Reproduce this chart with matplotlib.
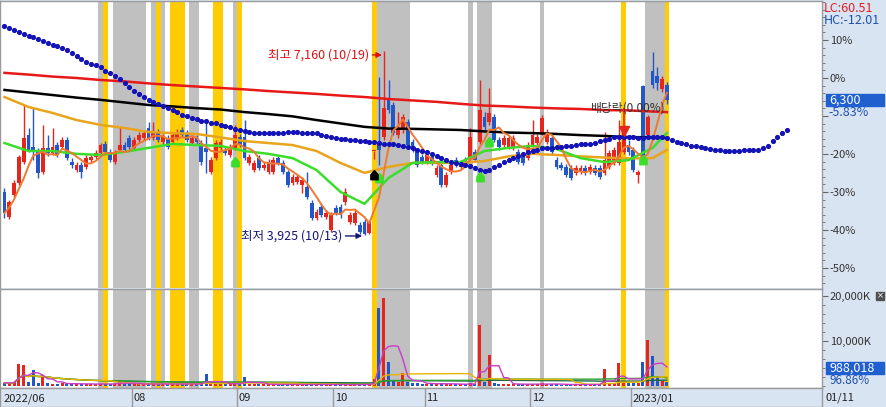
import numpy as np
import pandas as pd
import matplotlib
matplotlib.use("Agg")
import matplotlib.pyplot as plt
from matplotlib.path import Path
from matplotlib.patches import Rectangle
import matplotlib.transforms as mtransforms

plt.rcParams['font.family'] = ['Noto Sans CJK KR', 'DejaVu Sans']

# ---------------- data ----------------
holidays = ['2022-08-15', '2022-09-09', '2022-09-12', '2022-10-03', '2022-10-10', '2022-12-30']

open_ = [4685, 4245, 4630, 4840, 5210, 5685, 5475, 5425, 5035, 5460,
         5370, 5510, 5475, 5600, 5210, 5070, 5160, 5125, 5245, 5300,
         5370, 5530, 5390, 5210, 5425, 5510, 5635, 5460, 5600, 5635,
         5810, 5635, 5740, 5565, 5635, 5565, 5635, 5775, 5720, 5545,
         5635, 5545, 5460, 5035, 5280, 5460, 5425, 5335, 5460, 5650,
         5650, 5195, 5070, 5280, 5105, 5035, 5035, 5280, 5195, 5035,
         4840, 4860, 4805, 4770, 4490, 4225, 4420, 4245, 4015, 4400,
         4420, 4510, 4155, 4140, 4105, 4155, 3960, 5400, 5545, 5650,
         6300, 6215, 5685, 5775, 5915, 5565, 5390, 5300, 5210, 5300,
         4985, 5160, 4805, 5035, 5245, 5125, 5245, 5280, 5390, 5565,
         6005, 5915, 6005, 5600, 5510, 5475, 5460, 5390, 5335, 5280,
         5510, 5545, 5720, 5565, 5635, 5245, 5160, 5125, 5105, 5020,
         5035, 5105, 5035, 5105, 5105, 5020, 5125, 5195, 5195, 5390,
         5510, 5425, 4985, 6550, 5685, 6815, 6725, 6495, 6565]
high = [4755, 4545, 4895, 5335, 6215, 5810, 6160, 5460, 5865, 5685,
        5810, 5565, 5650, 5650, 5280, 5210, 5210, 5335, 5355, 5425,
        5545, 5580, 5440, 5425, 5830, 5565, 5685, 5650, 5740, 5775,
        5915, 5915, 5795, 5705, 5685, 5740, 5795, 5830, 5775, 5685,
        5685, 5600, 5950, 5300, 5600, 5615, 5475, 5530, 5865, 5705,
        5950, 5355, 5245, 5335, 5210, 5265, 5300, 5335, 5245, 5070,
        5000, 5000, 4950, 5035, 4545, 4385, 4475, 4365, 4330, 4455,
        4475, 4755, 4330, 4365, 4155, 4210, 4190, 5400, 6710, 7160,
        6655, 6270, 6090, 6055, 5970, 5615, 5440, 5355, 5390, 5355,
        5160, 5210, 5035, 5210, 5300, 5245, 5300, 5810, 5440, 6655,
        6090, 6515, 6055, 5650, 5685, 5685, 5685, 5440, 5390, 5565,
        5950, 5705, 6040, 5795, 5685, 5300, 5210, 5175, 5160, 5160,
        5160, 5160, 5175, 5160, 5160, 5740, 5425, 5475, 5950, 5865,
        5600, 5475, 5070, 6565, 6040, 7150, 6885, 6725, 6620]
low = [4225, 4210, 4595, 4805, 5175, 5390, 5245, 4930, 5000, 5315,
       5335, 5300, 5440, 5245, 5105, 5035, 4930, 5090, 5210, 5265,
       5335, 5355, 5210, 5175, 5390, 5390, 5440, 5425, 5565, 5600,
       5600, 5600, 5565, 5530, 5440, 5530, 5600, 5650, 5565, 5510,
       5530, 5160, 5020, 5000, 5245, 5425, 5335, 5300, 5425, 5475,
       5245, 5160, 5035, 5070, 5070, 5000, 5000, 5160, 5000, 4770,
       4805, 4825, 4665, 4560, 4190, 4190, 4245, 4210, 3980, 4280,
       4225, 4455, 4120, 4105, 3945, 3925, 3945, 5270, 5160, 5600,
       6075, 5685, 5635, 5720, 5475, 5390, 5125, 5175, 5175, 5160,
       4950, 4770, 4770, 5000, 5125, 5090, 5125, 5245, 5210, 5530,
       5775, 5865, 5565, 5425, 5475, 5440, 5425, 5175, 5160, 5245,
       5475, 5510, 5685, 5530, 5355, 5090, 5070, 4950, 4895, 4985,
       5000, 4985, 5000, 4985, 4915, 4985, 5090, 5160, 5160, 5355,
       5335, 5035, 4840, 5210, 5650, 6515, 6480, 6445, 6235]
close = [4315, 4510, 4840, 5300, 5635, 5425, 5425, 5020, 5460, 5370,
         5475, 5335, 5600, 5280, 5160, 5160, 5035, 5280, 5300, 5370,
         5510, 5390, 5245, 5370, 5510, 5425, 5475, 5600, 5685, 5720,
         5635, 5720, 5600, 5650, 5475, 5685, 5740, 5685, 5600, 5635,
         5565, 5210, 5390, 5245, 5545, 5565, 5370, 5475, 5685, 5510,
         5280, 5300, 5195, 5105, 5160, 5210, 5245, 5195, 5035, 4805,
         4950, 4950, 4895, 4595, 4225, 4330, 4280, 4315, 4280, 4315,
         4280, 4685, 4280, 4315, 3980, 3945, 4155, 5400, 5425, 6160,
         6125, 5720, 5810, 6005, 5510, 5425, 5160, 5210, 5335, 5195,
         5105, 4805, 4985, 5160, 5160, 5195, 5160, 5650, 5245, 6125,
         5830, 6075, 5600, 5475, 5635, 5635, 5635, 5210, 5195, 5510,
         5685, 5650, 5985, 5740, 5390, 5125, 5105, 4985, 4930, 5105,
         5105, 5020, 5125, 5020, 4950, 5245, 5370, 5425, 5565, 5720,
         5390, 5070, 5035, 5245, 6005, 6565, 6600, 6675, 6300]
volume_k = [700, 650, 900, 4900, 4700, 800, 3500, 700, 2400, 600,
            500, 450, 600, 550, 500, 400, 450, 500, 400, 450,
            500, 450, 400, 500, 1300, 450, 400, 500, 450, 400,
            450, 500, 400, 450, 400, 500, 450, 400, 450, 400,
            450, 600, 2700, 500, 600, 450, 400, 450, 700, 450,
            2000, 500, 400, 350, 400, 350, 400, 350, 300, 400,
            350, 300, 350, 400, 450, 350, 300, 350, 400, 300,
            300, 350, 300, 300, 350, 400, 350, 1500, 17300, 19500,
            5300, 1100, 900, 2900, 800, 700, 600, 500, 450, 500,
            450, 600, 500, 400, 350, 400, 350, 700, 500, 13500,
            900, 6900, 700, 500, 450, 400, 450, 400, 350, 400,
            450, 400, 600, 450, 400, 350, 300, 350, 300, 300,
            350, 300, 300, 350, 400, 3800, 600, 700, 5100, 800,
            700, 600, 700, 5300, 10200, 6700, 2200, 1020, 988.018]

# leading span (shifted 26 days forward), one value per day
span_dots = [7605, 7570, 7535, 7500, 7465, 7430, 7410, 7375, 7340, 7305,
             7270, 7245, 7220, 7185, 7130, 7075, 7025, 6980, 6945, 6910,
             6875, 6820, 6780, 6725, 6665, 6595, 6525, 6460, 6410, 6355,
             6310, 6270, 6235, 6195, 6160, 6125, 6085, 6040, 6015, 5985,
             5960, 5940, 5925, 5905, 5900, 5870, 5845, 5820, 5795, 5775,
             5755, 5740, 5730, 5730, 5720, 5720, 5720, 5730, 5730, 5740,
             5740, 5740, 5730, 5730, 5720, 5715, 5695, 5670, 5650, 5635,
             5615, 5610, 5600, 5590, 5580, 5575, 5565, 5555, 5545, 5535,
             5530, 5520, 5510, 5495, 5475, 5460, 5430, 5405, 5380, 5355,
             5315, 5280, 5245, 5220, 5195, 5170, 5150, 5135, 5105, 5070,
             5055, 5070, 5115, 5160, 5205, 5255, 5290, 5325, 5360, 5390,
             5405, 5425, 5450, 5460, 5465, 5475, 5475, 5485, 5495, 5510,
             5520, 5530, 5535, 5545, 5575, 5600, 5625, 5645, 5650, 5650,
             5650, 5645, 5635, 5635, 5645, 5645, 5650, 5650, 5635, 5600,
             5565, 5545, 5530, 5500, 5485, 5475, 5460, 5440, 5425, 5415,
             5405, 5405, 5405, 5405, 5415, 5415, 5425, 5425, 5450, 5485,
             5575, 5650, 5720, 5775]

# moving averages read every 5 sessions
ma_days = [0, 5, 10, 15, 20, 25, 30, 35, 40, 45, 50, 55, 60, 65, 70, 75, 80,
           85, 90, 95, 100, 105, 110, 115, 120, 125, 130, 135, 138]
ma20 = [5545, 5405, 5405, 5355, 5335, 5390, 5460, 5530, 5510, 5495, 5405, 5355,
        5280, 5070, 4685, 4475, 4930, 5195, 5210, 5210, 5405, 5460, 5495, 5440,
        5280, 5210, 5245, 5460, 5720]
ma60 = [6355, 6180, 6075, 5950, 5865, 5810, 5740, 5720, 5705, 5645, 5580, 5545,
        5510, 5405, 5195, 5020, 5125, 5195, 5195, 5195, 5230, 5310, 5355, 5335,
        5310, 5290, 5275, 5280, 5425]
ma120 = [6480, 6435, 6390, 6345, 6305, 6260, 6215, 6190, 6160, 6135, 6090, 6055,
         6015, 5950, 5890, 5830, 5800, 5795, 5785, 5775, 5750, 5730, 5720, 5705,
         5685, 5670, 5650, 5645, 5635]
ma240 = [6780, 6750, 6715, 6690, 6655, 6630, 6595, 6565, 6540, 6515, 6490, 6460,
         6435, 6410, 6380, 6355, 6320, 6295, 6270, 6235, 6205, 6190, 6170, 6155,
         6145, 6125, 6120, 6100, 6090]

gray_spans = [(20, 20), (23, 29), (31, 31), (33, 33), (39, 40), (48, 48),
              (78, 84), (97, 97), (99, 101), (112, 112), (134, 137)]
yellow_spans = [(21, 21), (32, 32), (35, 37), (44, 45), (49, 49), (77, 77),
                (129, 129), (138, 138)]

green_signal_days = [48, 78, 99, 101, 133]
green_signal_price = [5212, 4930, 4948, 5565, 5247]
black_signal_day, black_signal_price = 77, 4983
dividend_day = 129

base_price = 6690          # 0 % reference
pct_ticks = [10, 0, -10, -20, -30, -40, -50]
pct_labels = ['10%', '0%', '', '-20%', '-30%', '-40%', '-50%']
vol_ticks = [20000, 10000]
vol_tick_labels = ['20,000K', '10,000K']
month_keys = ['2022-06', '2022-08', '2022-09', '2022-10', '2022-11', '2022-12', '2023-01']
month_labels = ['2022/06', '08', '09', '10', '11', '12', '2023/01']

# ---------------- figure ----------------
W, H = 886, 407
PANEL = '#d9e4f2'
RED = '#e4261c'
BLUE = '#2356c6'
SPINE = '#9a9a9a'


def frect(x0, y0, x1, y1):
    return [x0 / W, 1 - y1 / H, (x1 - x0) / W, (y1 - y0) / H]


def fx(px):
    return px / W


def fy(py):
    return 1 - py / H


fig = plt.figure(figsize=(W / 100, H / 100), dpi=100, facecolor=PANEL)
axp = fig.add_axes(frect(0, 1, 822, 288))
axv = fig.add_axes(frect(0, 289, 822, 388))
axd = fig.add_axes(frect(0, 388, 822, 407))

o = np.array(open_, float); h = np.array(high, float)
l = np.array(low, float); c = np.array(close, float)
v = np.array(volume_k, float)
n = len(c)
x = np.arange(n)
dates = pd.bdate_range('2022-06-23', '2023-01-11')
dates = dates[~dates.isin(pd.to_datetime(holidays))]

XMIN, XMAX = -0.9375, 170.3125
for ax in (axp, axv, axd):
    ax.set_xlim(XMIN, XMAX)

axp.set_ylim(2994, 8045)
axv.set_ylim(-444, 21556)

# event bands
for ax in (axp, axv):
    for a, b in gray_spans:
        ax.axvspan(a - 0.5, b + 0.5, color='#c0c0c0', lw=0, zorder=0)
    for a, b in yellow_spans:
        ax.axvspan(a - 0.5, b + 0.5, color='#ffcc00', lw=0, zorder=0)

# candles
up = c >= o
cols = np.where(up, RED, BLUE)
axp.vlines(x, l, h, colors=cols, lw=1, zorder=2)
body_bottom = np.minimum(o, c)
body_h = np.maximum(np.abs(c - o), 16)
axp.bar(x, body_h, bottom=body_bottom, width=0.8, color=cols, lw=0, zorder=2)

# moving averages
ma5 = pd.Series(c).rolling(5, min_periods=1).mean()
axp.plot(ma_days, ma240, color='#e81818', lw=1.8, zorder=3)
axp.plot(ma_days, ma120, color='#000000', lw=1.8, zorder=3)
axp.plot(ma_days, ma60, color='#e8a41c', lw=1.8, zorder=3)
axp.plot(ma_days, ma20, color='#3ade2a', lw=1.8, zorder=3)
axp.plot(x, ma5, color='#f07830', lw=1.4, zorder=3)
axp.plot(np.arange(len(span_dots)), span_dots, ls='none', marker='o', ms=2.7,
         color='#1212b8', zorder=4)

house = Path([(-0.6, -0.7), (0.6, -0.7), (0.6, 0.1), (0, 0.8), (-0.6, 0.1), (-0.6, -0.7)],
             [Path.MOVETO, Path.LINETO, Path.LINETO, Path.LINETO, Path.LINETO, Path.CLOSEPOLY])
axp.plot(green_signal_days, green_signal_price, ls='none', marker=house, ms=7,
         color='#3ade2a', zorder=5)
axp.plot([black_signal_day], [black_signal_price], ls='none', marker=house, ms=7,
         color='black', zorder=5)

# dividend marker
axp.vlines(dividend_day, 5800, 6160, color=RED, lw=1.2, zorder=5)
axp.plot([dividend_day], [5760], marker='v', ms=7, color=RED, zorder=5)
axp.text(dividend_day + 8.6, 6160, '배당락(0.00%)', ha='right', va='center',
         fontsize=8.5, color='#333333', zorder=6)

# high / low annotations
hi_i = int(np.argmax(h)); lo_i = int(np.argmin(l))
axp.annotate('최고 7,160 (10/19)', xy=(hi_i - 0.35, 7095), xytext=(-9, 0),
             textcoords='offset points', ha='right', va='center', fontsize=9,
             color='#e01010',
             arrowprops=dict(arrowstyle='-|>', color='#e01010', lw=1,
                             shrinkA=0, shrinkB=0, mutation_scale=8), zorder=6)
axp.annotate('최저 3,925 (10/13)', xy=(lo_i - 0.5, 3910), xytext=(-14, 0),
             textcoords='offset points', ha='right', va='center', fontsize=9,
             color='#14147a',
             arrowprops=dict(arrowstyle='-|>', color='#14147a', lw=1,
                             shrinkA=0, shrinkB=0, mutation_scale=8), zorder=6)

# volume
axv.bar(x, v, width=0.66, color=cols, lw=0, zorder=2)
vs = pd.Series(v)
axv.plot(x, vs.rolling(120, min_periods=1).mean(), color='#1c6a48', lw=1, zorder=3)
axv.plot(x, vs.rolling(60, min_periods=1).mean(), color='#2aa02a', lw=1, zorder=3)
axv.plot(x, vs.rolling(20, min_periods=1).mean(), color='#e8b400', lw=1, zorder=3)
axv.plot(x, vs.rolling(5, min_periods=1).mean(), color='#c83cc8', lw=1, zorder=3)

# axes styling
for ax in (axp, axv, axd):
    for s in ax.spines.values():
        s.set_color(SPINE)
        s.set_linewidth(1)
    ax.tick_params(axis='x', which='both', bottom=False, top=False,
                   labelbottom=False, labeltop=False)
axp.spines['bottom'].set_visible(False)
axd.set_facecolor(PANEL)
axd.set_yticks([])

pct_price = [base_price * (1 + p / 100) for p in pct_ticks]
axp.yaxis.tick_right()
axp.set_yticks(pct_price)
axp.set_yticklabels(pct_labels)
axp.set_yticks([base_price * (1 + p / 100) for p in range(-54, 22, 2)], minor=True)
axp.tick_params(axis='y', which='major', length=4, width=0.8, color='#666666',
                labelsize=8, labelcolor='#333333', pad=1.5)
axp.tick_params(axis='y', which='minor', length=2, width=0.6, color='#666666')

axv.yaxis.tick_right()
axv.set_yticks(vol_ticks)
axv.set_yticklabels(vol_tick_labels)
axv.set_yticks(list(range(0, 21556, 2000)), minor=True)
axv.tick_params(axis='y', which='major', length=4, width=0.8, color='#666666',
                labelsize=8, labelcolor='#333333', pad=1.5)
axv.tick_params(axis='y', which='minor', length=2, width=0.6, color='#666666')

# month axis
trans_d = mtransforms.blended_transform_factory(axd.transData, axd.transAxes)
month_str = dates.strftime('%Y-%m')
for key, lab in zip(month_keys, month_labels):
    i0 = int(np.where(month_str == key)[0][0])
    if i0 > 0:
        axd.axvline(i0 - 0.5, color=SPINE, lw=1)
    axd.text(i0 - 0.5 + 0.35, 0.45, lab, transform=trans_d, ha='left', va='center',
             fontsize=8, color='#222222')

# right panel texts
fig.text(fx(824), fy(8), 'LC:60.51', color='#e02020', fontsize=9, ha='left', va='center')
fig.text(fx(824), fy(20), 'HC:-12.01', color='#2050b0', fontsize=9, ha='left', va='center')
fig.patches.append(Rectangle((fx(826), fy(106)), 58 / W, 12 / H, transform=fig.transFigure,
                             color='#1f5fd0', zorder=5))
fig.text(fx(829), fy(100), f'{close[-1]:,}', color='white', fontsize=9, ha='left',
         va='center', zorder=6)
fig.text(fx(828), fy(113), '-5.83%', color='#2050b0', fontsize=9, ha='left', va='center')

fig.patches.append(Rectangle((fx(826), fy(374)), 58 / W, 12 / H, transform=fig.transFigure,
                             color='#1f5fd0', zorder=5))
fig.text(fx(829), fy(368), f'{int(round(volume_k[-1] * 1000)):,}', color='white',
         fontsize=9, ha='left', va='center', zorder=6)
fig.text(fx(829), fy(381), f'{volume_k[-1] / volume_k[-2] * 100:.2f}%', color='#2050b0',
         fontsize=8.5, ha='left', va='center')
fig.patches.append(Rectangle((fx(876), fy(300)), 8 / W, 8 / H, transform=fig.transFigure,
                             color='#505050', zorder=5))
fig.text(fx(880), fy(296), '×', color='white', fontsize=6, ha='center', va='center',
         zorder=6, family='DejaVu Sans')
fig.text(fx(826), fy(398), dates[-1].strftime('%m/%d'), color='#222222', fontsize=8,
         ha='left', va='center')

fig.savefig('out.png', dpi=100, facecolor=PANEL)
